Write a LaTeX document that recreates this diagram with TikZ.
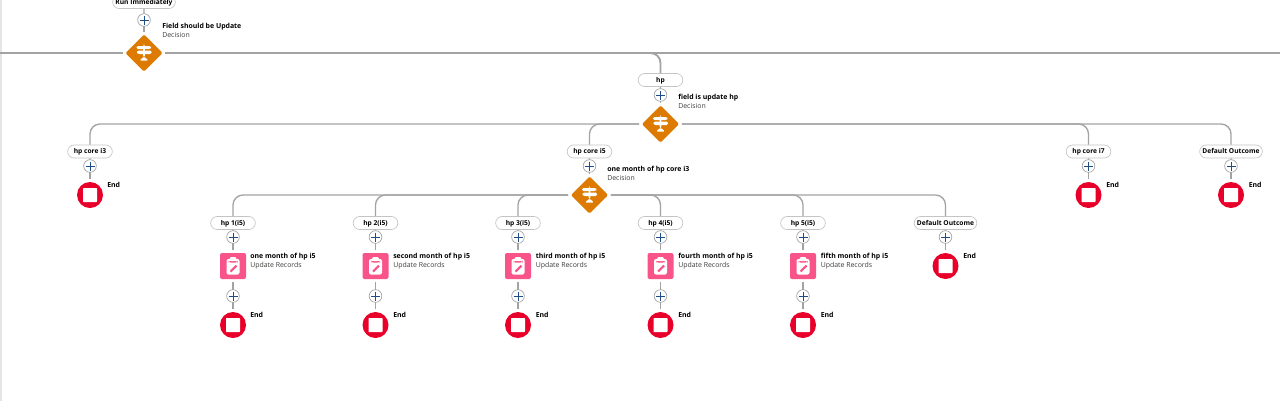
\documentclass[tikz,border=0pt]{standalone}
\usepackage{fontspec}
\setmainfont{Open Sans}
\usetikzlibrary{shapes.geometric,shapes.misc}
\definecolor{flowgray}{HTML}{A3A3A3}
\definecolor{pillgray}{HTML}{C4C4C4}
\definecolor{plusblue}{HTML}{1F4E86}
\definecolor{decorange}{HTML}{DD7A01}
\definecolor{recpink}{HTML}{F9548A}
\definecolor{endred}{HTML}{E8002B}
\definecolor{subgray}{HTML}{3E3E3C}
\tikzset{
	flowline/.style={draw=flowgray, line width=1pt, rounded corners=7.5pt},
	topline/.style={draw=flowgray, line width=1.4pt, rounded corners=7.5pt},
	pill/.style={draw=pillgray, line width=0.5pt, fill=white, rounded rectangle, inner sep=0pt, text height=3.7pt, text depth=0.6pt, minimum height=9.8pt, minimum width=33.5pt, font=\fontsize{5}{5}\selectfont\bfseries},
	widepill/.style={pill, minimum width=47pt},
	plusnode/.style={draw=flowgray, line width=0.5pt, fill=white, circle, inner sep=0pt, minimum size=9.5pt, outer sep=0pt,
		path picture={
			\draw[plusblue, line width=0.7pt, shift={(path picture bounding box.center)}] (-4.5,0) -- (4.5,0) (0,-4.5) -- (0,4.5);
		}},
	decnode/.style={diamond, fill=decorange, aspect=1, inner sep=0pt, minimum size=29pt, outer sep=1.5pt, rounded corners=1pt,
		path picture={
			\begin{scope}[shift={(path picture bounding box.center)}]
				\fill[white] (-7.5,-7) -- (6,-7) -- (8,-5.5) -- (6,-4) -- (-7.5,-4) -- cycle;
				\fill[white] (-6,-2.5) -- (7.5,-2.5) -- (7.5,1) -- (-6,1) -- (-8,-0.75) -- cycle;
				\fill[white] (-0.8,-8.5) rectangle (0.8,4);
				\fill[white] (-4.5,7.5) -- (0,3.5) -- (4.5,7.5) -- cycle;
			\end{scope}
		}},
	recnode/.style={rectangle, fill=recpink, rounded corners=1.5pt, inner sep=0pt, minimum size=19.5pt, outer sep=2pt,
		path picture={
			\begin{scope}[shift={(path picture bounding box.center)}]
				\fill[white, rounded corners=1.5pt] (-6.5,-7) rectangle (6.5,8.5);
				\fill[recpink] (-4.5,-5) rectangle (4.5,-3.5);
				\fill[white] (-3.5,-9) rectangle (3.5,-5);
				\draw[recpink, line width=1.6pt] (-2.5,5.5) -- (3.5,-0.5);
			\end{scope}
		}},
	endnode/.style={circle, fill=endred, inner sep=0pt, minimum size=19.5pt, outer sep=2pt,
		path picture={
			\fill[white, rounded corners=0.5pt, shift={(path picture bounding box.center)}] (-7,-7) rectangle (7,7);
		}},
	info/.style={anchor=north west, inner sep=0pt, align=left, font=\fontsize{5.2}{6.7}\selectfont, text=subgray},
}
\newcommand{\ttlbf}[1]{\textcolor{black}{\bfseries #1}}
\begin{document}
\begin{tikzpicture}[x=0.75pt, y=-0.75pt]
	\useasboundingbox (0,0) rectangle (1280,401);
	\fill[white] (0,0) rectangle (1280,401);
	\fill[black!10] (0,0) rectangle (2,401);

	% top decision
	\coordinate (westend) at (0, 53);
	\coordinate (eastend) at (1280, 53);
	\node[pill, widepill] at (144, 2) (run) {Run Immediately};
	\node[plusnode] at (144, 20) (run+) {};
	\node[decnode] at (144, 53) (fieldupd) {};
	\node[info] at (162, 23) (fieldupdtxt) {\ttlbf{Field should be Update}\\Decision};

	% hp
	\node[pill] at (660.5, 80) (hp) {hp};
	\node[plusnode] at (660.5, 95) (hp+) {};
	\node[decnode] at (660.5, 124) (hpdec) {};
	\node[info] at (678, 94) (hpdectxt) {\ttlbf{field is update hp}\\Decision};

	% hp core branches
	\node[pill] at (90, 151.5) (i3) {hp core i3};
	\node[plusnode] at (90, 166) (i3+) {};
	\node[endnode] at (90, 195) (i3end) {};
	\node[info] at (107, 182) (i3endtxt) {\ttlbf{End}};

	\node[pill] at (589.5, 151.5) (i5) {hp core i5};
	\node[plusnode] at (589.5, 166) (i5+) {};
	\node[decnode] at (589.5, 195) (i5dec) {};
	\node[info] at (607, 166) (i5dectxt) {\ttlbf{one month of hp core i3}\\Decision};

	\node[pill] at (1088.5, 151.5) (i7) {hp core i7};
	\node[plusnode] at (1088.5, 166) (i7+) {};
	\node[endnode] at (1088.5, 195) (i7end) {};
	\node[info] at (1106, 182) (i7endtxt) {\ttlbf{End}};

	\node[pill, widepill] at (1231, 151.5) (dflt) {Default Outcome};
	\node[plusnode] at (1231, 166) (dflt+) {};
	\node[endnode] at (1231, 195) (dfltend) {};
	\node[info] at (1248.5, 182) (dfltendtxt) {\ttlbf{End}};

	% i5 branches
	\node[pill] at (233, 223) (a1) {hp 1(i5)};
	\node[plusnode] at (233, 237) (a1+) {};
	\node[recnode] at (233, 266) (a1rec) {};
	\node[info] at (250, 253) (a1txt) {\ttlbf{one month of hp i5}\\Update Records};
	\node[plusnode] at (233, 296) (a1b+) {};
	\node[endnode] at (233, 325) (a1end) {};
	\node[info] at (250, 312) (a1endtxt) {\ttlbf{End}};

	\node[pill] at (375.5, 223) (a2) {hp 2(i5)};
	\node[plusnode] at (375.5, 237) (a2+) {};
	\node[recnode] at (375.5, 266) (a2rec) {};
	\node[info] at (393, 253) (a2txt) {\ttlbf{second month of hp i5}\\Update Records};
	\node[plusnode] at (375.5, 296) (a2b+) {};
	\node[endnode] at (375.5, 325) (a2end) {};
	\node[info] at (393, 312) (a2endtxt) {\ttlbf{End}};

	\node[pill] at (518, 223) (a3) {hp 3(i5)};
	\node[plusnode] at (518, 237) (a3+) {};
	\node[recnode] at (518, 266) (a3rec) {};
	\node[info] at (535.5, 253) (a3txt) {\ttlbf{third month of hp i5}\\Update Records};
	\node[plusnode] at (518, 296) (a3b+) {};
	\node[endnode] at (518, 325) (a3end) {};
	\node[info] at (535.5, 312) (a3endtxt) {\ttlbf{End}};

	\node[pill] at (660.5, 223) (a4) {hp 4(i5)};
	\node[plusnode] at (660.5, 237) (a4+) {};
	\node[recnode] at (660.5, 266) (a4rec) {};
	\node[info] at (678, 253) (a4txt) {\ttlbf{fourth month of hp i5}\\Update Records};
	\node[plusnode] at (660.5, 296) (a4b+) {};
	\node[endnode] at (660.5, 325) (a4end) {};
	\node[info] at (678, 312) (a4endtxt) {\ttlbf{End}};

	\node[pill] at (803, 223) (a5) {hp 5(i5)};
	\node[plusnode] at (803, 237) (a5+) {};
	\node[recnode] at (803, 266) (a5rec) {};
	\node[info] at (820.5, 253) (a5txt) {\ttlbf{fifth month of hp i5}\\Update Records};
	\node[plusnode] at (803, 296) (a5b+) {};
	\node[endnode] at (803, 325) (a5end) {};
	\node[info] at (820.5, 312) (a5endtxt) {\ttlbf{End}};

	\node[pill, widepill] at (945.5, 223) (a6) {Default Outcome};
	\node[plusnode] at (945.5, 237) (a6+) {};
	\node[endnode] at (945.5, 266) (a6end) {};
	\node[info] at (963, 253) (a6endtxt) {\ttlbf{End}};

	% connectors
	\draw[topline] (westend) -- (fieldupd);
	\draw[topline] (fieldupd) -- (eastend);
	\draw[topline] (fieldupd) -| (hp);
	\draw[flowline] (hpdec) -| (i3);
	\draw[flowline] (hpdec) -| (i5);
	\draw[flowline] (hpdec) -| (i7);
	\draw[flowline] (hpdec) -| (dflt);
	\draw[flowline] (i5dec) -| (a1);
	\draw[flowline] (i5dec) -| (a2);
	\draw[flowline] (i5dec) -| (a3);
	\draw[flowline] (i5dec) -| (a4);
	\draw[flowline] (i5dec) -| (a5);
	\draw[flowline] (i5dec) -| (a6);

	\path[flowline]
	(run) edge (run+) (run+) edge (fieldupd)
	(hp) edge (hp+) (hp+) edge (hpdec)
	(i3) edge (i3+) (i3+) edge (i3end)
	(i5) edge (i5+) (i5+) edge (i5dec)
	(i7) edge (i7+) (i7+) edge (i7end)
	(dflt) edge (dflt+) (dflt+) edge (dfltend)
	(a1) edge (a1+) (a1+) edge (a1rec) (a1rec) edge (a1b+) (a1b+) edge (a1end)
	(a2) edge (a2+) (a2+) edge (a2rec) (a2rec) edge (a2b+) (a2b+) edge (a2end)
	(a3) edge (a3+) (a3+) edge (a3rec) (a3rec) edge (a3b+) (a3b+) edge (a3end)
	(a4) edge (a4+) (a4+) edge (a4rec) (a4rec) edge (a4b+) (a4b+) edge (a4end)
	(a5) edge (a5+) (a5+) edge (a5rec) (a5rec) edge (a5b+) (a5b+) edge (a5end)
	(a6) edge (a6+) (a6+) edge (a6end);
\end{tikzpicture}
\end{document}
